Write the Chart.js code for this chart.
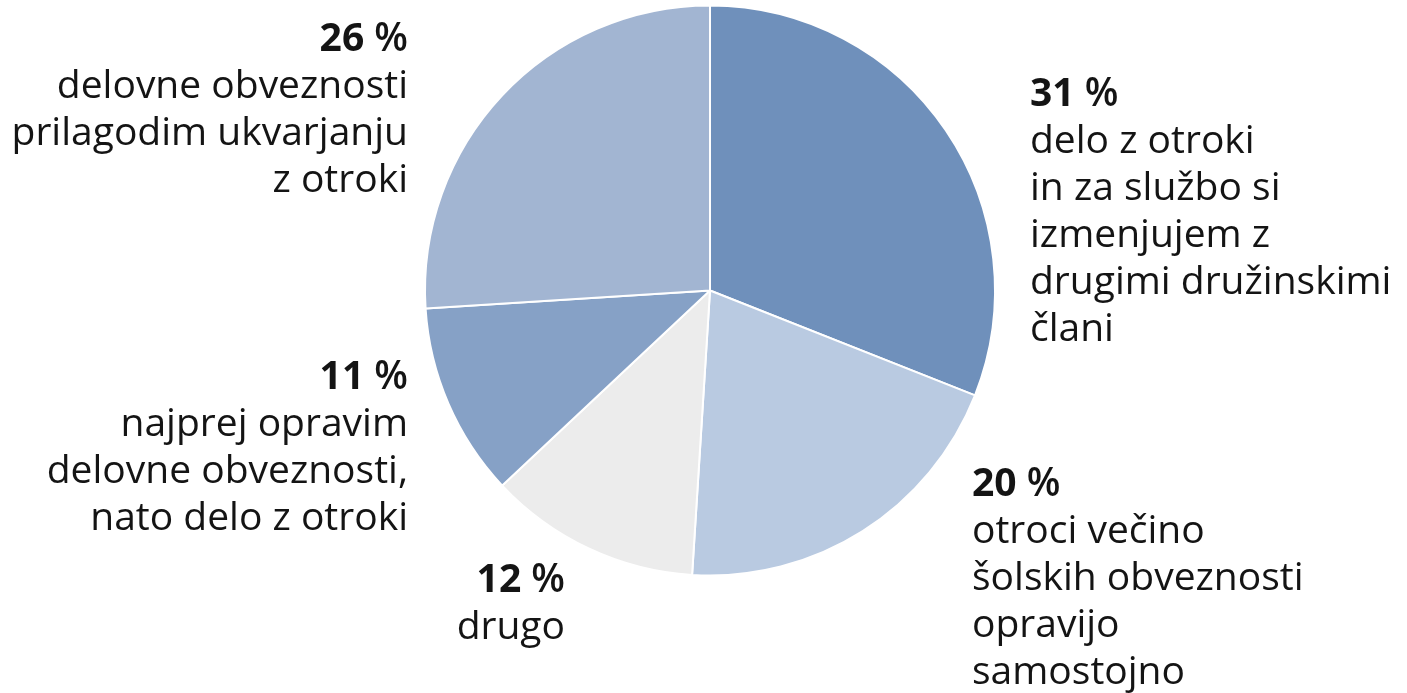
<!DOCTYPE html>
<html>
<head>
<meta charset="utf-8">
<script src="https://cdn.jsdelivr.net/npm/chart.js@4.4.1/dist/chart.umd.min.js"></script>
<style>
  html, body { margin: 0; padding: 0; background: #ffffff; }
  #wrap { width: 1407px; height: 693px; position: relative; }
</style>
</head>
<body>
<div id="wrap"><canvas id="pieChart"></canvas></div>
<script>
// 1. DATOS
const categories = ["delo z otroki", "otroci večino", "drugo", "najprej opravim", "delovne obveznosti"];
const values = [31, 20, 12, 11, 26];
const sliceColors = ["#6f90bb", "#b9cae1", "#ececec", "#86a1c6", "#a2b5d2"];
const labelLines = [
  ["delo z otroki", "in za službo si", "izmenjujem z", "drugimi družinskimi", "člani"],
  ["otroci večino", "šolskih obveznosti", "opravijo", "samostojno"],
  ["drugo"],
  ["najprej opravim", "delovne obveznosti,", "nato delo z otroki"],
  ["delovne obveznosti", "prilagodim ukvarjanju", "z otroki"]
];

// 2. POSICIONES DE LAS ETIQUETAS (x, y del primer renglón, alineación)
const labelPlaces = [
  { x: 1030, y: 95, align: "left" },
  { x: 972, y: 485, align: "left" },
  { x: 565, y: 581, align: "right" },
  { x: 408, y: 378, align: "right" },
  { x: 408, y: 40, align: "right" }
];

const FONT = "'Open Sans', 'Noto Sans', sans-serif";
const SIZE = 39;
const LINE_H = 47;

// 3. PLUGIN DE ETIQUETAS
const sideLabels = {
  id: "sideLabels",
  afterDraw(chart) {
    const ctx = chart.ctx;
    ctx.save();
    ctx.fillStyle = "#141414";
    ctx.textBaseline = "middle";
    values.forEach((v, i) => {
      const p = labelPlaces[i];
      // primera línea: número en negrita + " %"
      ctx.font = `bold ${SIZE}px ${FONT}`;
      const numTxt = String(v);
      const numW = ctx.measureText(numTxt).width;
      ctx.font = `600 ${SIZE}px ${FONT}`;
      const pctTxt = " %";
      const pctW = ctx.measureText(pctTxt).width;
      const x0 = p.align === "left" ? p.x : p.x - numW - pctW;
      ctx.textAlign = "left";
      ctx.font = `bold ${SIZE}px ${FONT}`;
      ctx.fillText(numTxt, x0, p.y);
      ctx.font = `600 ${SIZE}px ${FONT}`;
      ctx.fillText(pctTxt, x0 + numW, p.y);

      ctx.font = `${SIZE}px ${FONT}`;
      ctx.textAlign = p.align;
      labelLines[i].forEach((line, j) => {
        ctx.fillText(line, p.x, p.y + LINE_H * (j + 1));
      });
    });
    ctx.restore();
  }
};

// 4. GRÁFICA
function initChart() {
  const ctx = document.getElementById("pieChart").getContext("2d");
  new Chart(ctx, {
    type: "pie",
    data: {
      labels: categories,
      datasets: [{
        data: values,
        backgroundColor: sliceColors,
        borderColor: "#ffffff",
        borderWidth: 2
      }]
    },
    options: {
      responsive: true,
      maintainAspectRatio: false,
      animation: false,
      layout: { padding: { top: 4, bottom: 116, left: 424, right: 411 } },
      plugins: {
        legend: { display: false },
        tooltip: { enabled: false }
      }
    },
    plugins: [sideLabels]
  });
}

initChart();
</script>
</body>
</html>
